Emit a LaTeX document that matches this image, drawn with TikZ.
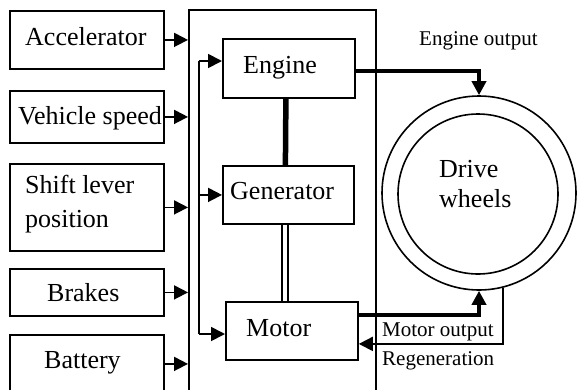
\documentclass[tikz,border=0pt]{standalone}
\usepackage{fontspec}
\setmainfont{Liberation Serif}
\usetikzlibrary{arrows.meta}
\begin{document}
\begin{tikzpicture}[x=1pt,y=-1pt,
  box/.style={draw, line width=1.8pt, rectangle, inner sep=0pt, anchor=north west},
  lbl/.style={anchor=base west, inner sep=0pt, font=\fontsize{26}{30}\selectfont},
  small/.style={anchor=base west, inner sep=0pt, font=\fontsize{21}{25}\selectfont},
  tip/.style={-{Triangle[length=14pt,width=14pt]}},
  sig/.style={tip, line width=1.8pt},
  power/.style={tip, line width=4pt},
  wheel/.style={draw, circle, line width=1.6pt, inner sep=0pt}]
  \useasboundingbox (0,0) rectangle (577,389);
  \clip (0,0) rectangle (577,389);

  % input boxes
  \node[box, minimum width=154pt, minimum height=58pt] (acc) at (9,10) {};
  \node[box, minimum width=154pt, minimum height=52pt] (spd) at (9,90) {};
  \node[box, minimum width=154pt, minimum height=87pt] (shf) at (9,163) {};
  \node[box, minimum width=154pt, minimum height=47pt] (brk) at (9,268) {};
  \node[box, minimum width=154pt, minimum height=58pt] (bat) at (9,334) {};
  \node[lbl] (tacc) at (25,45) {Accelerator};
  \node[lbl] (tspd) at (18,124) {Vehicle speed};
  \node[lbl] (tshf1) at (25,193) {Shift lever};
  \node[lbl] (tshf2) at (25,227) {position};
  \node[lbl] (tbrk) at (47,301) {Brakes};
  \node[lbl] (tbat) at (44,368) {Battery};

  % controller frame
  \node[box, minimum width=187pt, minimum height=400pt] (ctl) at (188,9) {};

  % power units
  \node[box, minimum width=132pt, minimum height=59pt] (eng) at (222,38) {};
  \node[box, minimum width=131pt, minimum height=58pt] (gen) at (222,165) {};
  \node[box, minimum width=132pt, minimum height=58pt] (mot) at (225,301) {};
  \node[lbl] (teng) at (243,73) {Engine};
  \node[lbl] (tgen) at (230,199) {Generator};
  \node[lbl] (tmot) at (246,336) {Motor};

  % drive wheels
  \node[wheel, minimum size=194pt] (whl) at (479,193) {};
  \node[wheel, minimum size=160pt] (rim) at (478,194) {};
  \node[lbl] (tdrv1) at (439,177) {Drive};
  \node[lbl] (tdrv2) at (439,207) {wheels};

  % inputs into the controller
  \foreach \b in {acc,spd,shf,brk,bat}
    \draw[sig] (\b.east) -- (\b.east -| ctl.west);

  % internal distribution
  \coordinate (dtop) at (199,61);
  \coordinate (dbot) at (199,334);
  \draw[line width=1.8pt] (dtop) -- (dbot);
  \draw[sig] (dtop) -- (dtop -| eng.west);
  \draw[sig] (dtop |- gen.west) -- (gen.west);
  \draw[sig] (dbot) -- (dbot -| mot.west);

  % mechanical links
  \draw[line width=5.5pt] ([xshift=-3pt]eng.south) -- ([xshift=-3pt]gen.north);
  \draw[double, line width=2pt, double distance=4pt]
    ([xshift=-3pt]gen.south) -- ([xshift=-6.5pt]mot.north);

  % power flows
  \draw[power] ([yshift=-2.5pt]eng.east) -| (whl.north);
  \node[small] (teo) at (419,45) {Engine output};
  \draw[power] ([yshift=16pt]mot.east) -| (whl.south);
  \node[small] (tmo) at (382,336) {Motor output};
  \draw[sig] (whl.-76) |- ([yshift=-13pt]mot.east);
  \node[small] (treg) at (382,365) {Regeneration};
\end{tikzpicture}
\end{document}
